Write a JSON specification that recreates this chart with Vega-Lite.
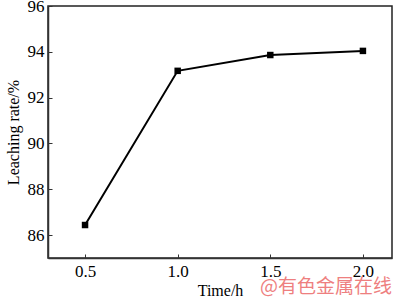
{
  "$schema": "https://vega.github.io/schema/vega-lite/v6.json",
  "width": 344,
  "height": 252,
  "autosize": {"type": "none"},
  "padding": {"left": 48, "top": 6, "right": 8, "bottom": 41},
  "background": "white",
  "config": {
    "view": {"stroke": "#222", "strokeWidth": 1.5},
    "font": "Liberation Serif"
  },
  "data": {
    "values": [
      {"time": 0.5, "rate": 86.44},
      {"time": 1.0, "rate": 93.17},
      {"time": 1.5, "rate": 93.86},
      {"time": 2.0, "rate": 94.04}
    ]
  },
  "layer": [
    {
      "mark": {"type": "line", "color": "black", "strokeWidth": 2},
      "encoding": {
        "x": {
          "field": "time", "type": "quantitative",
          "scale": {"domain": [0.3, 2.157], "nice": false, "zero": false},
          "axis": {
            "values": [0.5, 1.0, 1.5, 2.0], "format": ".1f",
            "title": "Time/h", "grid": false,
            "tickSize": -4, "tickColor": "#333", "domainColor": "#333", "domainWidth": 1.5,
            "labelFont": "Liberation Serif", "labelFontSize": 17, "labelColor": "black", "labelPadding": 9,
            "titleFont": "Liberation Serif", "titleFontSize": 16, "titleFontWeight": "normal", "titleColor": "black", "titlePadding": 3
          }
        },
        "y": {
          "field": "rate", "type": "quantitative",
          "scale": {"domain": [85, 96], "nice": false, "zero": false},
          "axis": {
            "values": [86, 88, 90, 92, 94, 96],
            "title": "Leaching rate/%", "grid": false,
            "tickSize": -4, "tickColor": "#333", "domainColor": "#333", "domainWidth": 1.5,
            "labelFont": "Liberation Serif", "labelFontSize": 17, "labelColor": "black", "labelPadding": 8,
            "titleFont": "Liberation Serif", "titleFontSize": 16, "titleFontWeight": "normal", "titleColor": "black", "titlePadding": 6
          }
        }
      }
    },
    {
      "mark": {"type": "point", "shape": "square", "filled": true, "color": "black", "size": 42, "opacity": 1},
      "encoding": {
        "x": {"field": "time", "type": "quantitative"},
        "y": {"field": "rate", "type": "quantitative"}
      }
    }
  ],
  "title": {
    "text": "@有色金属在线",
    "orient": "bottom",
    "anchor": "end",
    "offset": -20,
    "font": "Noto Sans CJK SC",
    "fontSize": 19,
    "fontWeight": "normal",
    "color": "#ee7f7f",
    "opacity": 0.8
  }
}
